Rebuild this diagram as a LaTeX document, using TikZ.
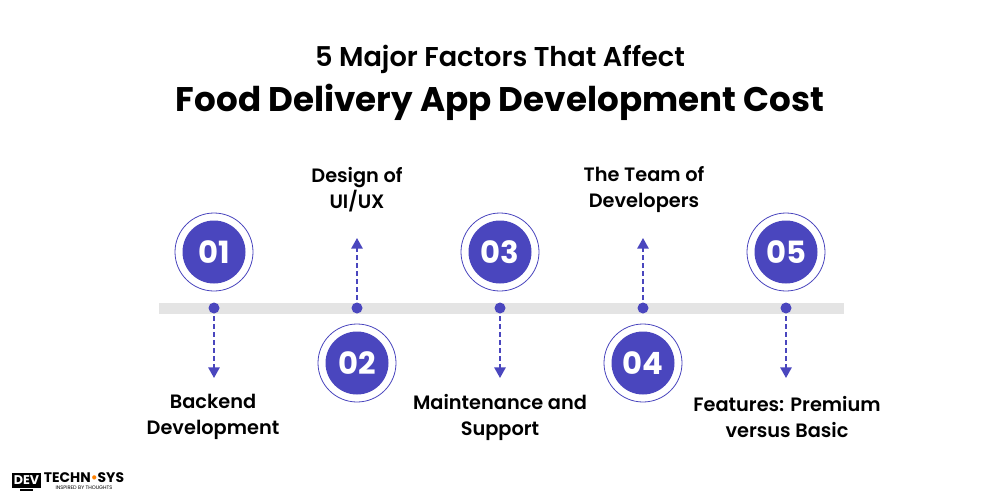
\documentclass[tikz,border=0pt]{standalone}
\usepackage{fontspec}
\setmainfont{Poppins}
\newfontfamily\pmed{Poppins}[UprightFont=* SemiBold,BoldFont=* Bold]
\usetikzlibrary{arrows.meta,shapes.geometric}
\definecolor{ind}{HTML}{4A46BE}
\definecolor{bar}{HTML}{E4E4E4}
\tikzset{
 x=0.75pt,y=-0.75pt,
 ttl/.style={font=\pmed\fontsize{20.4}{25}\selectfont,text=black,inner sep=0pt},
 ttlb/.style={font=\pmed\bfseries\fontsize{25.6}{34}\selectfont,text=black,inner sep=0pt},
 lab/.style={font=\pmed\fontsize{14.5}{19.5}\selectfont,align=center,text=black,inner sep=0pt},
 numc/.style={circle,fill=ind,minimum size=47.25pt,inner sep=0pt},
 numt/.style={font=\bfseries\fontsize{23}{25}\selectfont,text=white,inner sep=0pt},
 ringc/.style={circle,draw=ind,line width=0.6pt,fill=white,minimum size=58.5pt,inner sep=0pt},
 dotc/.style={circle,fill=ind,minimum size=8.25pt,inner sep=0pt},
 conn/.style={draw=ind,line width=1.4pt,dash pattern=on 4pt off 2pt,-{Triangle[length=8pt,width=8.5pt,fill=ind]}},
}
\begin{document}
\begin{tikzpicture}
\useasboundingbox (0,0) rectangle (1000,500);
\fill[white] (0,0) rectangle (1000,500);
\node[ttl] (t1) at (500,59.5) {5 Major Factors That Affect};
\node[ttlb] (t2) at (500,102) {Food Delivery App Development Cost};
\fill[bar] (159,303) rectangle (844,314);
\foreach \n/\x/\yy in {a/214/252,b/357/363,c/500/252,d/643/363,e/786/252}{
  \node[ringc] (r\n) at (\x,\yy) {};
  \node[numc] (n\n) at (\x,\yy) {};
  \node[dotc] (d\n) at (\x,308) {};
}
\node[numt] (ta) at (na) {01};
\node[numt] (tb) at (nb) {02};
\node[numt] (tc) at (nc) {03};
\node[numt] (td) at (nd) {04};
\node[numt] (te) at (ne) {05};
\coordinate (ea) at (214,378);
\coordinate (eb) at (357,238);
\coordinate (ec) at (500,378);
\coordinate (ed) at (643,238);
\coordinate (ee) at (786,378);
\draw[conn] (da.center) -- (ea);
\draw[conn] (db.center) -- (eb);
\draw[conn] (dc.center) -- (ec);
\draw[conn] (dd.center) -- (ed);
\draw[conn] (de.center) -- (ee);
\node[lab] (la) at (213,417) {Backend\\Development};
\node[lab] (lb) at (357,190) {Design of\\UI/UX};
\node[lab] (lc) at (500,417) {Maintenance and\\Support};
\node[lab] (ld) at (644,190) {The Team of\\Developers};
\node[lab] (le) at (787,417) {Features: Premium\\versus Basic};
% logo
\fill[black] (12,473) rectangle (41,488);
\fill[black] (20,489) rectangle (33,491);
\node[font=\bfseries\fontsize{9.5}{10}\selectfont,text=white,inner sep=0pt] (lg1) at (26.5,480.5) {DEV};
\node[font=\bfseries\fontsize{10.4}{10}\selectfont,text=black,inner sep=0pt] (lg2) at (84,477.5) {TECHN{\color{orange}\textbullet}SYS};
\node[font=\fontsize{3.8}{4}\selectfont,text=black,inner sep=0pt,text height=2pt,text depth=0pt] (lg3) at (84,488) {INSPIRED BY THOUGHTS};
\end{tikzpicture}
\end{document}
